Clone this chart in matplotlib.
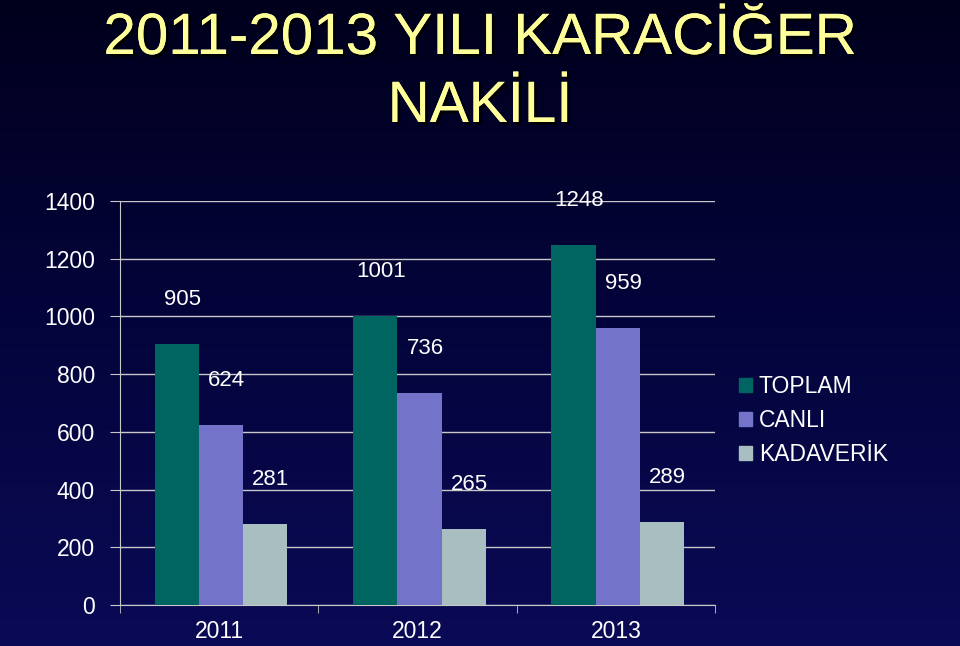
import numpy as np
import matplotlib
matplotlib.use("Agg")
import matplotlib.pyplot as plt
import matplotlib.patheffects as pe
from matplotlib.colors import LinearSegmentedColormap
from matplotlib.patches import Patch

# Veriler
years = ["2011", "2012", "2013"]
series_names = ["TOPLAM", "CANLI", "KADAVERİK"]
toplam = [905, 1001, 1248]
canli = [624, 736, 959]
kadaverik = [281, 265, 289]
y_ticks = [0, 200, 400, 600, 800, 1000, 1200, 1400]

colors = ["#006461", "#7373C9", "#A9BEC1"]
FONT = "Liberation Sans"

fig = plt.figure(figsize=(9.6, 6.46), dpi=100)

# Arka plan (koyu lacivert gradyan)
bg = fig.add_axes([0, 0, 1, 1], zorder=-10)
cmap = LinearSegmentedColormap.from_list("bg", ["#00001c", "#04043c", "#0a0a56"])
grad = np.linspace(0, 1, 256).reshape(-1, 1)
bg.imshow(grad, aspect="auto", cmap=cmap, extent=[0, 1, 0, 1], origin="upper")
bg.set_axis_off()

# Baslik
for i, line in enumerate(["2011-2013 YILI KARACİĞER", "NAKİLİ"]):
    fig.text(0.5, 1 - (39 + 68 * i) / 646, line, ha="center", va="center",
             fontsize=42, color="#FFFF99", family=FONT,
             path_effects=[pe.withSimplePatchShadow(offset=(2, -2), shadow_rgbFace="black", alpha=0.9),
                           pe.Normal()])

ax = fig.add_axes([120 / 960, 1 - 605 / 646, 595 / 960, 404 / 646])
ax.set_facecolor("none")

x = np.arange(len(years))
w = 0.223
all_series = [toplam, canli, kadaverik]
for k, (vals, c, name) in enumerate(zip(all_series, colors, series_names)):
    pos = x + (k - 1) * w + 0.01
    bars = ax.bar(pos, vals, width=w, color=c, label=name, zorder=3)
    for b, v in zip(bars, vals):
        ax.annotate(str(v), (b.get_x() + b.get_width() / 2, v), xytext=(4, 32),
                    textcoords="offset points", ha="center", va="center",
                    fontsize=16, color="white", family=FONT)

ax.set_xlim(-0.5, 2.5)
ax.set_ylim(0, 1400)
ax.set_yticks(y_ticks)
ax.set_yticklabels([str(t) for t in y_ticks], fontsize=16.5, color="white", family=FONT)
ax.yaxis.grid(True, color="#c8c8c8", linewidth=1)
ax.set_axisbelow(True)
ax.tick_params(axis="y", length=7, color="#c8c8c8", pad=11)

ax.set_xticks(x)
ax.set_xticklabels(years, fontsize=16.5, color="white", family=FONT)
ax.set_xticks([-0.5, 0.5, 1.5, 2.5], minor=True)
ax.tick_params(axis="x", which="major", length=0, pad=11)
ax.tick_params(axis="x", which="minor", length=6, color="#c8c8c8")

for s in ["top", "right"]:
    ax.spines[s].set_visible(False)
ax.spines["left"].set_color("#c8c8c8")
ax.spines["bottom"].set_color("#c8c8c8")

handles = [Patch(color=c, label=n) for c, n in zip(colors, series_names)]
leg = fig.legend(handles=handles, loc="upper left", bbox_to_anchor=(730 / 960, 1 - 366 / 646),
                 frameon=False, handlelength=0.55, handleheight=0.55,
                 handletextpad=0.3, labelspacing=0.48, borderaxespad=0,
                 prop={"family": FONT, "size": 16.5})
for t in leg.get_texts():
    t.set_color("white")

plt.savefig("out.png", dpi=100)
plt.close()
